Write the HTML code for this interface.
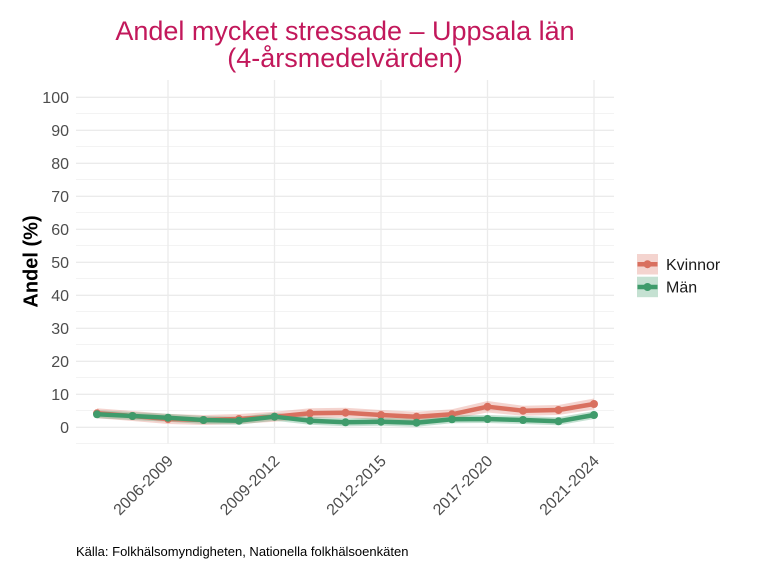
<!DOCTYPE html>
<html>
<head>
<meta charset="utf-8">
<style>
  html, body { margin: 0; padding: 0; background: #ffffff; }
  svg { display: block; }
  text { font-family: "Liberation Sans", "DejaVu Sans", sans-serif; }
</style>
</head>
<body>
<svg width="768" height="576" viewBox="0 0 768 576" xmlns="http://www.w3.org/2000/svg">
  <rect width="768" height="576" fill="#ffffff"/>

  <!-- Title -->
  <text x="345" y="40" font-size="27" fill="#C2185B" text-anchor="middle">Andel mycket stressade – Uppsala län</text>
  <text x="345" y="67" font-size="27" fill="#C2185B" text-anchor="middle">(4-årsmedelvärden)</text>

  <!-- Minor horizontal gridlines -->
  <g stroke="#EFEFEF" stroke-width="0.7">
    <line x1="76" x2="614" y1="443.5" y2="443.5"/>
    <line x1="76" x2="614" y1="410.5" y2="410.5"/>
    <line x1="76" x2="614" y1="377.5" y2="377.5"/>
    <line x1="76" x2="614" y1="344.5" y2="344.5"/>
    <line x1="76" x2="614" y1="311.5" y2="311.5"/>
    <line x1="76" x2="614" y1="278.5" y2="278.5"/>
    <line x1="76" x2="614" y1="245.5" y2="245.5"/>
    <line x1="76" x2="614" y1="212.5" y2="212.5"/>
    <line x1="76" x2="614" y1="179.5" y2="179.5"/>
    <line x1="76" x2="614" y1="146.5" y2="146.5"/>
    <line x1="76" x2="614" y1="113.5" y2="113.5"/>
  </g>
  <!-- Major horizontal gridlines -->
  <g stroke="#EBEBEB" stroke-width="1.3">
    <line x1="76" x2="614" y1="427.3" y2="427.3"/>
    <line x1="76" x2="614" y1="394.3" y2="394.3"/>
    <line x1="76" x2="614" y1="361.3" y2="361.3"/>
    <line x1="76" x2="614" y1="328.3" y2="328.3"/>
    <line x1="76" x2="614" y1="295.3" y2="295.3"/>
    <line x1="76" x2="614" y1="262.3" y2="262.3"/>
    <line x1="76" x2="614" y1="229.3" y2="229.3"/>
    <line x1="76" x2="614" y1="196.3" y2="196.3"/>
    <line x1="76" x2="614" y1="163.3" y2="163.3"/>
    <line x1="76" x2="614" y1="130.3" y2="130.3"/>
    <line x1="76" x2="614" y1="97.3" y2="97.3"/>
  </g>
  <!-- Vertical gridlines -->
  <g stroke="#EBEBEB" stroke-width="1.3">
    <line x1="168" x2="168" y1="80" y2="443.5"/>
    <line x1="274.5" x2="274.5" y1="80" y2="443.5"/>
    <line x1="381" x2="381" y1="80" y2="443.5"/>
    <line x1="487.5" x2="487.5" y1="80" y2="443.5"/>
    <line x1="594" x2="594" y1="80" y2="443.5"/>
  </g>

  <!-- Y tick labels -->
  <g font-size="16" fill="#4D4D4D" text-anchor="end">
    <text x="69" y="433">0</text>
    <text x="69" y="400">10</text>
    <text x="69" y="367">20</text>
    <text x="69" y="334">30</text>
    <text x="69" y="301">40</text>
    <text x="69" y="268">50</text>
    <text x="69" y="235">60</text>
    <text x="69" y="202">70</text>
    <text x="69" y="169">80</text>
    <text x="69" y="136">90</text>
    <text x="69" y="103">100</text>
  </g>

  <!-- Y axis title -->
  <text transform="translate(37.5,261.5) rotate(-90)" font-size="20" font-weight="bold" fill="#000" text-anchor="middle">Andel (%)</text>

  <!-- X tick labels -->
  <g font-size="16" fill="#4D4D4D" text-anchor="end">
    <text transform="translate(174,462) rotate(-45)">2006-2009</text>
    <text transform="translate(280.5,462) rotate(-45)">2009-2012</text>
    <text transform="translate(387,462) rotate(-45)">2012-2015</text>
    <text transform="translate(493.5,462) rotate(-45)">2017-2020</text>
    <text transform="translate(600,462) rotate(-45)">2021-2024</text>
  </g>

  <!-- Ribbons -->
  <polygon fill="#D9705F" fill-opacity="0.3"
    points="97,408.3 132.5,411 168,414 203.5,415 239,414 274.5,411.7 310,408.3 345.5,407.7 381,410 416.5,411.7 452,409.3 487.5,401 523,405.7 558.5,405 594,398.5 594,409.5 558.5,415 523,415.7 487.5,412.5 452,419.3 416.5,421.7 381,420 345.5,417.7 310,418.3 274.5,421.7 239,424 203.5,425 168,424 132.5,421 97,418.3"/>
  <polygon fill="#3F9B6B" fill-opacity="0.3"
    points="97,410.3 132.5,412 168,413.7 203.5,416 239,416.7 274.5,412.7 310,416.7 345.5,418.3 381,417.7 416.5,418.7 452,415.3 487.5,415 523,416 558.5,417.3 594,411 594,419 558.5,425.3 523,424 487.5,423 452,423.3 416.5,426.7 381,425.7 345.5,426.3 310,424.7 274.5,420.7 239,424.7 203.5,424 168,421.7 132.5,420 97,418.3"/>

  <!-- Kvinnor line -->
  <polyline fill="none" stroke="#D9705F" stroke-width="4.5" stroke-linejoin="round" stroke-linecap="round"
    points="97,413.3 132.5,416 168,419 203.5,420 239,419 274.5,416.7 310,413.3 345.5,412.7 381,415 416.5,416.7 452,414.3 487.5,406.7 523,410.7 558.5,410 594,404"/>
  <g fill="#D9705F">
    <circle cx="97" cy="413.3" r="4"/><circle cx="132.5" cy="416" r="4"/><circle cx="168" cy="419" r="4"/>
    <circle cx="203.5" cy="420" r="4"/><circle cx="239" cy="419" r="4"/><circle cx="274.5" cy="416.7" r="4"/>
    <circle cx="310" cy="413.3" r="4"/><circle cx="345.5" cy="412.7" r="4"/><circle cx="381" cy="415" r="4"/>
    <circle cx="416.5" cy="416.7" r="4"/><circle cx="452" cy="414.3" r="4"/><circle cx="487.5" cy="406.7" r="4"/>
    <circle cx="523" cy="410.7" r="4"/><circle cx="558.5" cy="410" r="4"/><circle cx="594" cy="404" r="4"/>
  </g>

  <!-- Män line -->
  <polyline fill="none" stroke="#3F9B6B" stroke-width="4.5" stroke-linejoin="round" stroke-linecap="round"
    points="97,414.3 132.5,416 168,417.7 203.5,420 239,420.7 274.5,416.7 310,420.7 345.5,422.3 381,421.7 416.5,422.7 452,419.3 487.5,419 523,420 558.5,421.3 594,415"/>
  <g fill="#3F9B6B">
    <circle cx="97" cy="414.3" r="4"/><circle cx="132.5" cy="416" r="4"/><circle cx="168" cy="417.7" r="4"/>
    <circle cx="203.5" cy="420" r="4"/><circle cx="239" cy="420.7" r="4"/><circle cx="274.5" cy="416.7" r="4"/>
    <circle cx="310" cy="420.7" r="4"/><circle cx="345.5" cy="422.3" r="4"/><circle cx="381" cy="421.7" r="4"/>
    <circle cx="416.5" cy="422.7" r="4"/><circle cx="452" cy="419.3" r="4"/><circle cx="487.5" cy="419" r="4"/>
    <circle cx="523" cy="420" r="4"/><circle cx="558.5" cy="421.3" r="4"/><circle cx="594" cy="415" r="4"/>
  </g>

  <!-- Legend -->
  <rect x="637" y="254" width="21" height="20.5" fill="#D9705F" fill-opacity="0.3"/>
  <line x1="637.5" x2="657.5" y1="264.2" y2="264.2" stroke="#D9705F" stroke-width="4.5"/>
  <circle cx="647.5" cy="264.2" r="4" fill="#D9705F"/>
  <rect x="637" y="276.7" width="21" height="20.5" fill="#3F9B6B" fill-opacity="0.3"/>
  <line x1="637.5" x2="657.5" y1="287" y2="287" stroke="#3F9B6B" stroke-width="4.5"/>
  <circle cx="647.5" cy="287" r="4" fill="#3F9B6B"/>
  <text x="666" y="269.8" font-size="16" fill="#1a1a1a">Kvinnor</text>
  <text x="666" y="292.6" font-size="16" fill="#1a1a1a">Män</text>

  <!-- Caption -->
  <text x="76" y="556" font-size="13" fill="#000">Källa: Folkhälsomyndigheten, Nationella folkhälsoenkäten</text>
</svg>
</body>
</html>
